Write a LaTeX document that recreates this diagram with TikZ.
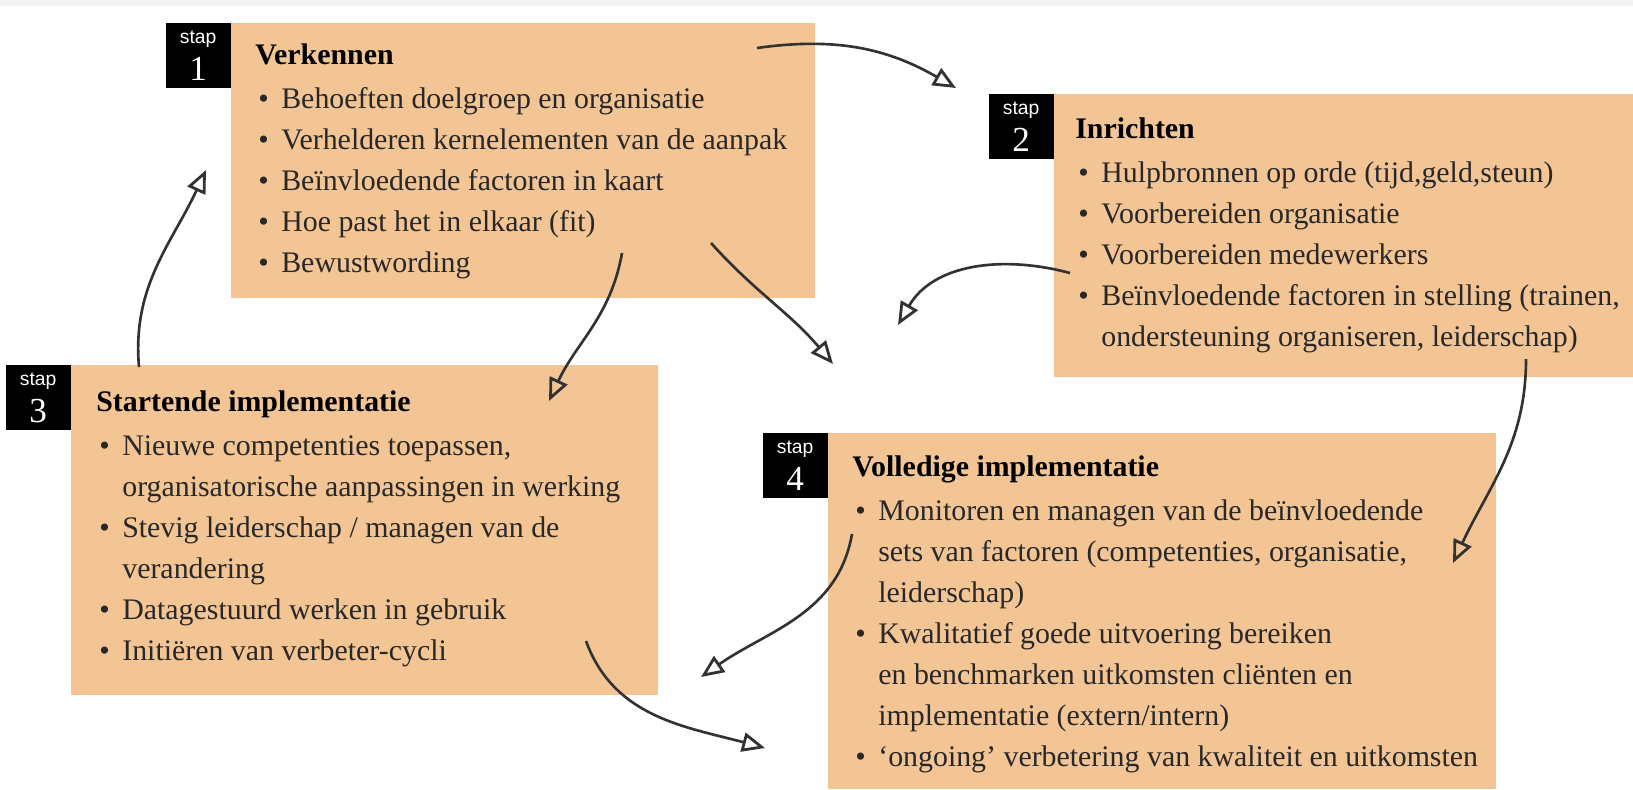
\documentclass[tikz,border=0pt]{standalone}
\usepackage{fontspec}
\setmainfont{Liberation Serif}
\setsansfont{Liberation Sans}
\usetikzlibrary{arrows.meta,positioning}

\definecolor{staporanje}{RGB}{243,197,149}
\definecolor{pijlgrijs}{RGB}{50,50,50}
\definecolor{tekstgrijs}{RGB}{40,40,40}
\newcommand{\bul}{\makebox[0.52cm][l]{\hspace{0.06cm}\textbullet}}
\newcommand{\inspring}{\hspace*{0.52cm}}

\tikzset{
  stapbox/.style={rectangle, fill=staporanje, inner sep=0pt, anchor=north west},
  staptag/.style={rectangle, fill=black, text=white, inner sep=0pt, minimum width=1.3cm, minimum height=1.3cm, anchor=north east, align=center, font=\sffamily\fontsize{11}{21}\selectfont},
  staptekst/.style={anchor=north west, inner sep=0pt, align=left, text=tekstgrijs, font=\fontsize{17}{23.3}\selectfont},
  pijl/.style={draw=pijlgrijs, line width=1.5pt, -{Triangle[open, length=13pt, width=11pt, line width=1.6pt]}}
}

\begin{document}
\begin{tikzpicture}[x=0.02cm, y=-0.02cm]
\useasboundingbox (0,0) rectangle (1633,789);
\fill[white] (0,0) rectangle (1633,789);
\fill[gray!10] (0,0) rectangle (1633,6);

% Stap 1
\node[stapbox, minimum width=11.68cm, minimum height=5.5cm] (verkennen) at (231,23) {};
\node[staptag] (tag1) at (verkennen.north west) {stap\\{\rmfamily\fontsize{20}{20}\selectfont 1}};
\node[staptekst] (verkennen-tekst) at (255,43) {{\bfseries\color{black}Verkennen}\\[2pt]
\bul Behoeften doelgroep en organisatie\\
\bul Verhelderen kernelementen van de aanpak\\
\bul Beïnvloedende factoren in kaart\\
\bul Hoe past het in elkaar (fit)\\
\bul Bewustwording};

% Stap 2
\node[stapbox, minimum width=11.58cm, minimum height=5.66cm] (inrichten) at (1054,94) {};
\node[staptag] (tag2) at (inrichten.north west) {stap\\{\rmfamily\fontsize{20}{20}\selectfont 2}};
\node[staptekst] (inrichten-tekst) at (1075,117) {{\bfseries\color{black}Inrichten}\\[2pt]
\bul Hulpbronnen op orde (tijd,geld,steun)\\
\bul Voorbereiden organisatie\\
\bul Voorbereiden medewerkers\\
\bul Beïnvloedende factoren in stelling (trainen,\\
\inspring ondersteuning organiseren, leiderschap)};

% Stap 3
\node[stapbox, minimum width=11.74cm, minimum height=6.6cm] (startend) at (71,365) {};
\node[staptag] (tag3) at (startend.north west) {stap\\{\rmfamily\fontsize{20}{20}\selectfont 3}};
\node[staptekst] (startend-tekst) at (96,390) {{\bfseries\color{black}Startende implementatie}\\[2pt]
\bul Nieuwe competenties toepassen,\\
\inspring organisatorische aanpassingen in werking\\
\bul Stevig leiderschap / managen van de\\
\inspring verandering\\
\bul Datagestuurd werken in gebruik\\
\bul Initiëren van verbeter-cycli};

% Stap 4
\node[stapbox, minimum width=13.36cm, minimum height=7.12cm] (volledig) at (828,433) {};
\node[staptag] (tag4) at (volledig.north west) {stap\\{\rmfamily\fontsize{20}{20}\selectfont 4}};
\node[staptekst] (volledig-tekst) at (852,455) {{\bfseries\color{black}Volledige implementatie}\\[2pt]
\bul Monitoren en managen van de beïnvloedende\\
\inspring sets van factoren (competenties, organisatie,\\
\inspring leiderschap)\\
\bul Kwalitatief goede uitvoering bereiken\\
\inspring en benchmarken uitkomsten cliënten en\\
\inspring implementatie (extern/intern)\\
\bul ‘ongoing’ verbetering van kwaliteit en uitkomsten};

% Pijlen
\coordinate (p1s) at (757,48);  \coordinate (p1e) at (956,88);
\coordinate (p2s) at (622,253); \coordinate (p2e) at (549,401);
\coordinate (p3s) at (711,243); \coordinate (p3e) at (833,364);
\coordinate (p4s) at (1070,273); \coordinate (p4e) at (898,325);
\coordinate (p5s) at (1526,359); \coordinate (p5e) at (1453,563);
\coordinate (p6s) at (852,534); \coordinate (p6e) at (701,677);
\coordinate (p7s) at (586,641); \coordinate (p7e) at (765,748);
\coordinate (p8s) at (139,367); \coordinate (p8e) at (206,170);

\draw[pijl] (p1s) to[out=8, in=150] (p1e);
\draw[pijl] (p2s) to[out=-100, in=65] (p2e);
\draw[pijl] (p3s) to[out=-48, in=130] (p3e);
\draw[pijl] (p4s) to[out=165, in=60] (p4e);
\draw[pijl] (p5s) to[out=-90, in=65] (p5e);
\draw[pijl] (p6s) to[out=-100, in=35] (p6e);
\draw[pijl] (p7s) to[out=-70, in=165] (p7e);
\draw[pijl] (p8s) to[out=95, in=-115] (p8e);
\end{tikzpicture}
\end{document}
